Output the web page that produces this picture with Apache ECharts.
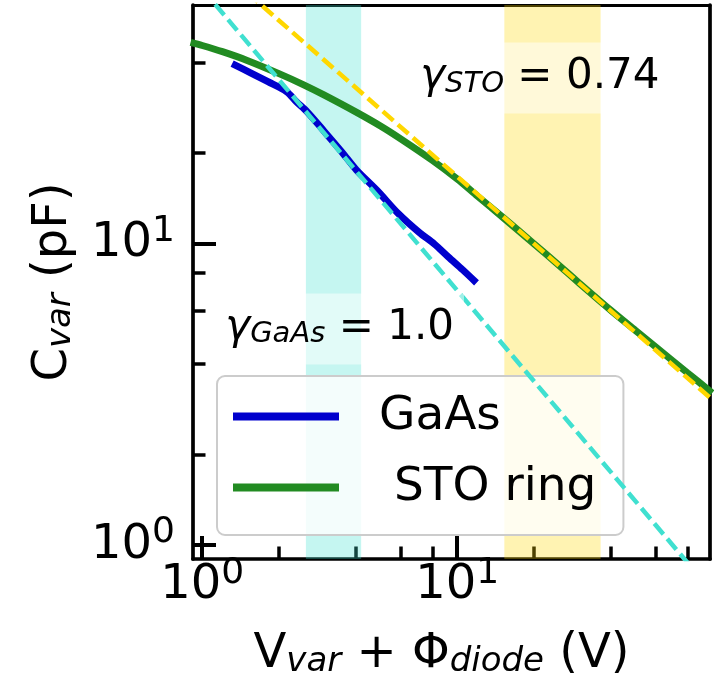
<!DOCTYPE html>
<html>
<head>
<meta charset="utf-8">
<script src="https://cdn.jsdelivr.net/npm/echarts@6/dist/echarts.min.js"></script>
<style>
  html, body { margin: 0; padding: 0; background: #fff; }
  #chart { width: 725px; height: 684px; }
</style>
</head>
<body>
<div id="chart"></div>
<script>
// Varactor capacitance versus total bias (log-log)
const gaasVoltage = [1.31, 1.54, 1.81, 2.14, 2.34, 2.58, 3.01, 3.54, 4.02, 4.86, 5.87, 7.10, 8.12, 9.22, 10.5, 11.9];
const gaasCap     = [39.6, 37.0, 34.5, 32.0, 29.6, 27.4, 23.6, 20.1, 17.6, 15.0, 12.6, 10.9, 10.0, 9.05, 8.2, 7.42];

const stoVoltage = [0.9, 1.0, 1.2, 1.5, 2.0, 2.5, 3.0, 4.0, 5.0, 6.0, 8.0, 10, 12, 15, 20, 25, 30, 40, 50, 60, 70, 80, 100];
const stoCap     = [46.6, 45.5, 43.4, 40.6, 36.7, 33.7, 31.2, 27.4, 24.6, 22.3, 18.9, 16.4, 14.4, 12.3, 10.0, 8.5, 7.42, 6.02, 5.16, 4.55, 4.09, 3.73, 3.2];

// power-law fits C ~ V^-gamma (end points of each straight line in log-log)
const gaasFitVoltage = [1.0, 100];
const gaasFitCap     = [70, 0.70];
const stoFitVoltage  = [1.0, 100];
const stoFitCap      = [92, 3.04];

const gammaGaAs = '1.0';
const gammaSTO  = '0.74';

// voltage windows used for the fits
const gaasWindow = [2.55, 4.2];
const stoWindow  = [15.3, 36.5];

// axis ranges and ticks
const xRange = [0.92, 98];
const yRange = [0.9, 62];
const xMajorTicks = [1, 10];
const xMinorTicks = [2, 4, 6, 8, 20, 40, 60, 80];
const yMajorTicks = [1, 10];
const yMinorTicks = [2, 4, 6, 8, 20, 40];

const FONT = 'DejaVu Sans';
const zip = (a, b) => a.map((v, i) => [v, b[i]]);

// "10" with a raised exponent
const powRich = {
  b: { fontFamily: FONT, fontSize: 48, lineHeight: 48, color: '#000' },
  s: { fontFamily: FONT, fontSize: 36, lineHeight: 36, padding: [0, 0, 25, 0], color: '#000' }
};
const powFormatter = v => '{b|10}{s|' + Math.round(Math.log10(v)) + '}';

const titleRich = {
  m: { fontFamily: FONT, fontSize: 48, lineHeight: 48, color: '#000' },
  s: { fontFamily: FONT, fontSize: 34, fontStyle: 'italic', lineHeight: 22, verticalAlign: 'bottom', color: '#000' }
};

const annRich = {
  g: { fontFamily: FONT, fontSize: 42, fontStyle: 'italic', lineHeight: 42, color: '#000' },
  s: { fontFamily: FONT, fontSize: 29, fontStyle: 'italic', lineHeight: 22, verticalAlign: 'bottom', color: '#000' },
  m: { fontFamily: FONT, fontSize: 42, lineHeight: 42, color: '#000' }
};

function baseAxis(range) {
  return { type: 'log', logBase: 10, min: range[0], max: range[1], splitLine: { show: false } };
}

const xAxes = [
  Object.assign(baseAxis(xRange), {
    position: 'bottom',
    axisLine: { show: true, lineStyle: { color: '#000', width: 3.7 } },
    axisTick: { show: true, inside: true, length: 23, lineStyle: { color: '#000', width: 4 }, customValues: xMajorTicks },
    axisLabel: { show: true, margin: 3, color: '#000', customValues: xMajorTicks, formatter: powFormatter, rich: powRich },
    name: '{m|V}{s|var}{m| + Φ}{s|diode}{m| (V)}',
    nameLocation: 'middle',
    nameGap: 72,
    nameTextStyle: { color: '#000', rich: titleRich, padding: [0, 20, 0, 0] }
  }),
  Object.assign(baseAxis(xRange), {
    position: 'bottom',
    axisLine: { show: false },
    axisTick: { show: true, inside: true, length: 12.5, lineStyle: { color: '#000', width: 3.5 }, customValues: xMinorTicks },
    axisLabel: { show: false }
  }),
  Object.assign(baseAxis(xRange), {
    position: 'top',
    axisLine: { show: true, lineStyle: { color: '#000', width: 3 } },
    axisTick: { show: false },
    axisLabel: { show: false }
  })
];

const yAxes = [
  Object.assign(baseAxis(yRange), {
    position: 'left',
    axisLine: { show: true, lineStyle: { color: '#000', width: 3.7 } },
    axisTick: { show: true, inside: true, length: 23, lineStyle: { color: '#000', width: 4 }, customValues: yMajorTicks },
    axisLabel: { show: true, margin: 18, color: '#000', customValues: yMajorTicks, formatter: powFormatter, rich: powRich },
    name: '{m|C}{s|var}{m| (pF)}',
    nameLocation: 'middle',
    nameRotate: 90,
    nameGap: 115,
    nameTextStyle: { color: '#000', rich: titleRich }
  }),
  Object.assign(baseAxis(yRange), {
    position: 'left',
    axisLine: { show: false },
    axisTick: { show: true, inside: true, length: 12.5, lineStyle: { color: '#000', width: 3.5 }, customValues: yMinorTicks },
    axisLabel: { show: false }
  }),
  Object.assign(baseAxis(yRange), {
    position: 'right',
    axisLine: { show: true, lineStyle: { color: '#000', width: 3.7 } },
    axisTick: { show: false },
    axisLabel: { show: false }
  })
];

const option = {
  animation: false,
  backgroundColor: '#fff',
  grid: { left: 193, right: 15, top: 5, bottom: 125, containLabel: false },
  xAxis: xAxes,
  yAxis: yAxes,
  legend: {
    data: ['GaAs', ' STO ring'],
    orient: 'vertical',
    left: 217,
    top: 376,
    icon: 'rect',
    itemWidth: 106,
    itemHeight: 8,
    itemGap: 24,
    padding: [17, 27, 24, 16],
    selectedMode: false,
    backgroundColor: 'rgba(255,255,255,0.8)',
    borderColor: '#cccccc',
    borderWidth: 2,
    borderRadius: 8,
    textStyle: { fontFamily: FONT, fontSize: 47, color: '#000', padding: [0, 0, 0, 35] }
  },
  series: [
    {
      name: 'windows',
      type: 'line',
      data: [],
      silent: true,
      markArea: {
        silent: true,
        data: [
          [{ xAxis: gaasWindow[0], itemStyle: { color: 'rgba(64,224,208,0.3)' } }, { xAxis: gaasWindow[1] }],
          [{ xAxis: stoWindow[0], itemStyle: { color: 'rgba(255,215,0,0.3)' } }, { xAxis: stoWindow[1] }]
        ]
      }
    },
    {
      name: 'GaAs',
      type: 'line',
      data: zip(gaasVoltage, gaasCap),
      showSymbol: false,
      smooth: 0.3,
      color: '#0000cd',
      lineStyle: { color: '#0000cd', width: 7 },
      silent: true,
      z: 3
    },
    {
      name: ' STO ring',
      type: 'line',
      data: zip(stoVoltage, stoCap),
      showSymbol: false,
      smooth: 0.3,
      clip: true,
      color: '#228b22',
      lineStyle: { color: '#228b22', width: 7 },
      silent: true,
      z: 3
    },
    {
      name: 'GaAs fit',
      type: 'line',
      data: zip(gaasFitVoltage, gaasFitCap),
      showSymbol: false,
      clip: true,
      lineStyle: { color: '#40e0d0', width: 4.5, type: [14, 6] },
      silent: true,
      z: 4
    },
    {
      name: 'STO fit',
      type: 'line',
      data: zip(stoFitVoltage, stoFitCap),
      showSymbol: false,
      clip: true,
      lineStyle: { color: '#ffd700', width: 4.5, type: [14, 6] },
      silent: true,
      z: 4
    },
    {
      name: 'gamma labels',
      type: 'scatter',
      symbolSize: 0,
      silent: true,
      z: 5,
      itemStyle: { color: 'transparent' },
      label: {
        show: true,
        position: 'inside',
        align: 'left',
        verticalAlign: 'middle',
        color: '#000',
        opacity: 1,
        backgroundColor: 'rgba(255,255,255,0.5)',
        padding: [14, 10, 15, 10],
        rich: annRich,
        formatter: p => p.data[2]
      },
      data: [
        [6.54, 35.5, '{g|γ}{s|STO}{m| = ' + gammaSTO + '}'],
        [1.125, 5.22, '{g|γ}{s|GaAs}{m| = ' + gammaGaAs + '}']
      ]
    }
  ]
};

const chart = echarts.init(document.getElementById('chart'), null, { renderer: 'canvas' });
chart.setOption(option);
</script>
</body>
</html>
